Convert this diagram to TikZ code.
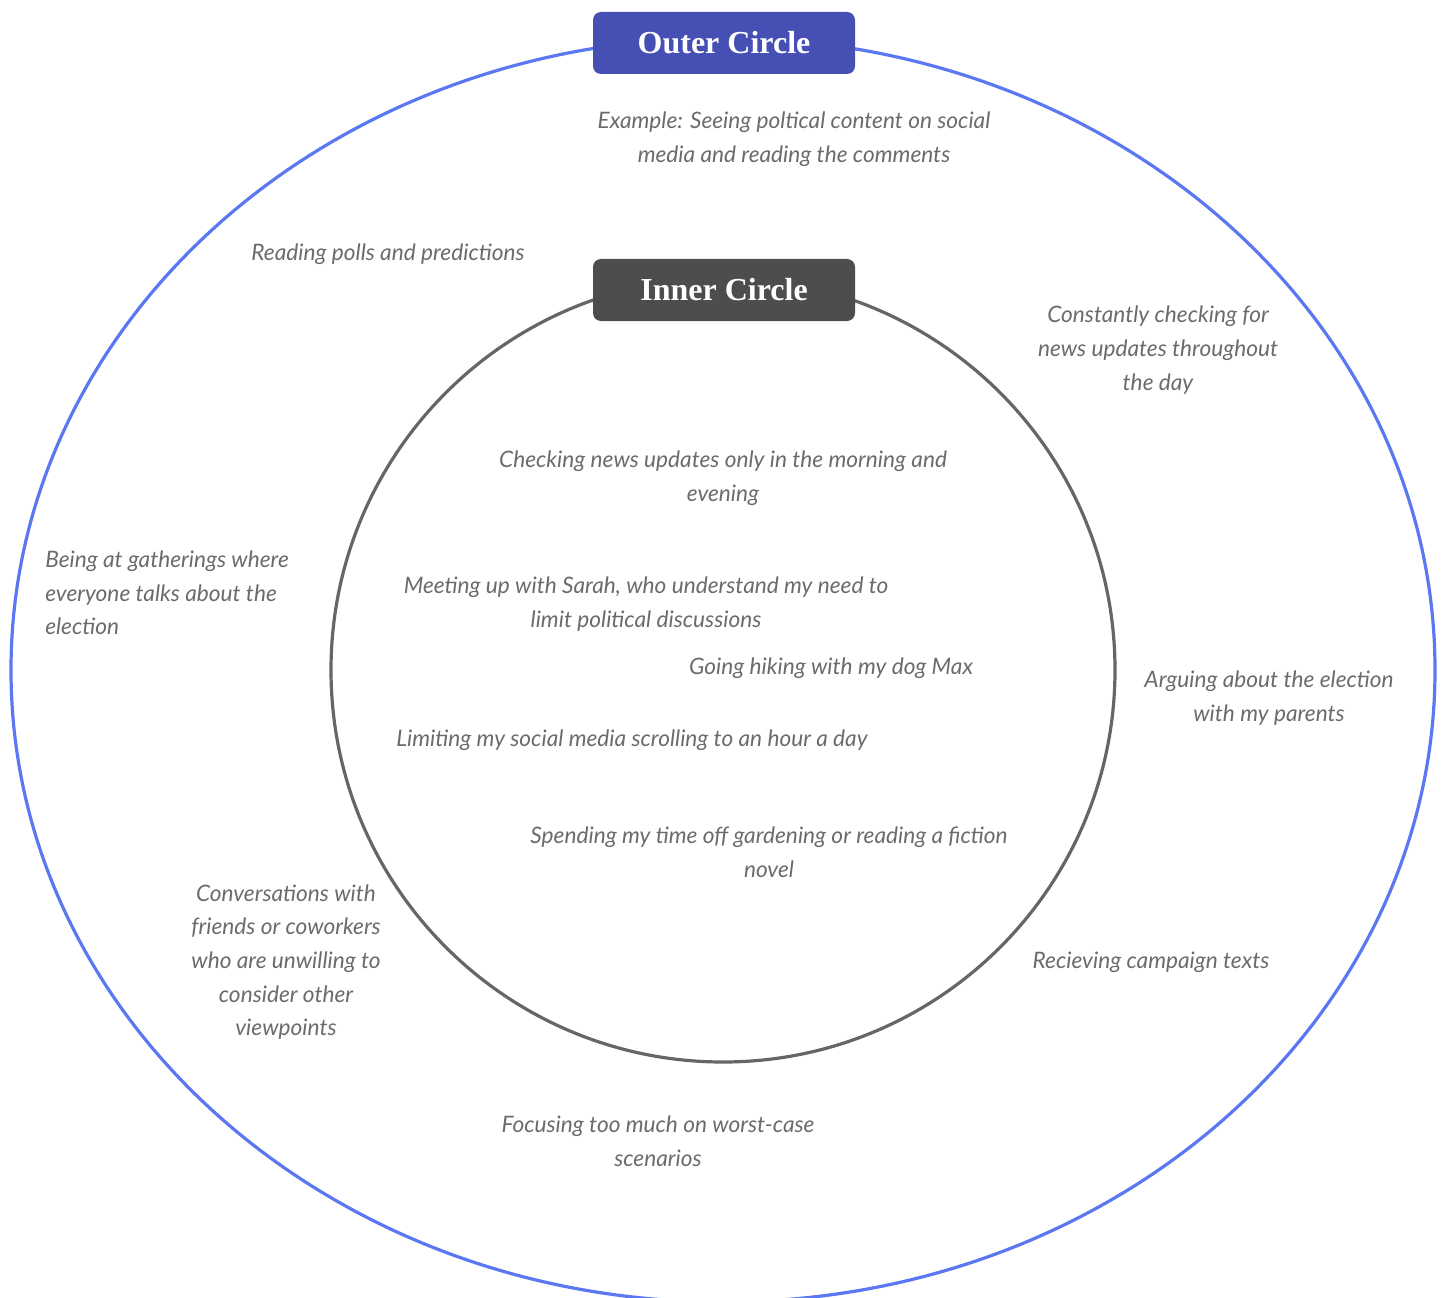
\documentclass[tikz,border=0pt]{standalone}
\usepackage{fontspec}
\setmainfont{Lato}
\newfontfamily\hdrfont{Liberation Serif}
\usetikzlibrary{positioning}
\definecolor{outerblue}{HTML}{5B78F2}
\definecolor{outerbox}{HTML}{4650B4}
\definecolor{innerline}{HTML}{666666}
\definecolor{innerbox}{HTML}{4D4D4D}
\definecolor{notegray}{HTML}{6B6B6B}

\begin{document}
\begin{tikzpicture}[x=0.75pt,y=-0.75pt,
note/.style={align=center,text=notegray,inner sep=0pt,yshift=-1.5pt,
font=\fontsize{17}{25.2}\selectfont\itshape},
hdr/.style={rounded corners=6pt,text=white,minimum width=196.5pt,
minimum height=46.5pt,inner sep=0pt,font=\hdrfont\bfseries\fontsize{24}{28}\selectfont}]
\path[use as bounding box](0,0)rectangle(1445,1298);
\clip(0,0)rectangle(1445,1298);

% the two rings
\coordinate(M)at(723,670);
\draw[outerblue,line width=2.4pt](M)ellipse[x radius=712,y radius=632];
\draw[innerline,line width=2.4pt](M)circle[radius=392];

\node[hdr,fill=outerbox](H1)at(724,43){Outer Circle};
\node[hdr,fill=innerbox](H2)at(724,290){Inner Circle};

% outer circle
\node[note](O1)at(794,137){Example: Seeing poltical content on social\\media and reading the comments};
\node[note](O2)at(388,252){Reading polls and predictions};
\node[note](O3)at(1158,348){Constantly checking for\\news updates throughout\\the day};
\node[note,align=left,anchor=west](O4)at(45,591){Being at gatherings where\\everyone talks about the\\election};
\node[note](O5)at(1269,696){Arguing about the election\\with my parents};
\node[note](O6)at(286,960){Conversations with\\friends or coworkers\\who are unwilling to\\consider other\\viewpoints};
\node[note](O7)at(1151,960){Recieving campaign texts};
\node[note](O8)at(658,1139){Focusing too much on worst-case\\scenarios};

% inner circle
\node[note](I1)at(723,476){Checking news updates only in the morning and\\evening};
\node[note](I2)at(646,602){Meeting up with Sarah, who understand my need to\\limit political discussions};
\node[note](I3)at(831,666){Going hiking with my dog Max};
\node[note](I4)at(632,738){Limiting my social media scrolling to an hour a day};
\node[note](I5)at(769,850){Spending my time off gardening or reading a fiction\\novel};
\end{tikzpicture}
\end{document}
